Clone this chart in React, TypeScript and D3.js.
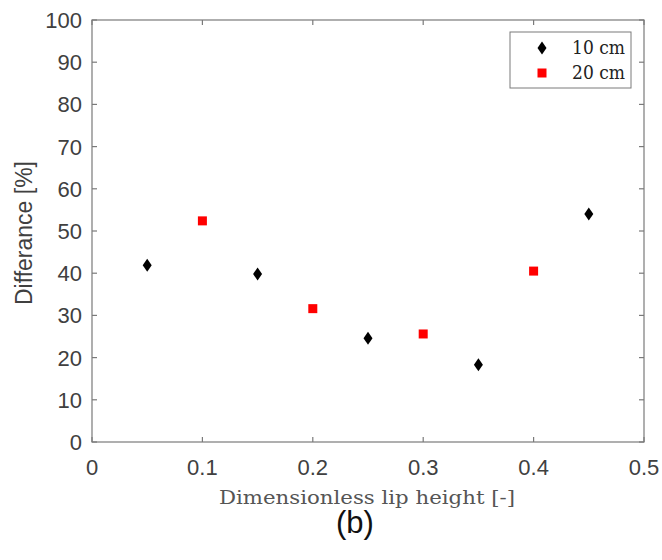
import React from "react";
import * as d3 from "d3";

const x10 = [0.05, 0.15, 0.25, 0.35, 0.45];
const y10 = [41.9, 39.8, 24.6, 18.3, 54.0];
const x20 = [0.1, 0.2, 0.3, 0.4];
const y20 = [52.4, 31.6, 25.6, 40.5];
const xTicks = [0, 0.1, 0.2, 0.3, 0.4, 0.5];
const yTicks = [0, 10, 20, 30, 40, 50, 60, 70, 80, 90, 100];
const seriesLabels = ["10 cm", "20 cm"];
const xLabel = "Dimensionless lip height [-]";
const yLabel = "Differance [%]";
const caption = "(b)";

export default function App() {
  const W = 662, H = 560;
  const L = 92, R = 644, T = 20, B = 442;
  const x = d3.scaleLinear().domain([0, 0.5]).range([L, R]);
  const y = d3.scaleLinear().domain([0, 100]).range([B, T]);
  const axisColor = "#7a7a7a";
  const textColor = "#404040";
  const tl = 5;
  const sans = "Liberation Sans, Arial, sans-serif";
  const serif = "DejaVu Serif, Liberation Serif, serif";
  const diamond = (cx: number, cy: number) =>
    `M${cx},${cy - 6.5}L${cx + 4.5},${cy}L${cx},${cy + 6.5}L${cx - 4.5},${cy}Z`;
  return (
    <svg width={W} height={H} style={{ position: "absolute", left: 0, top: 0, background: "#fff" }}>
      <rect x={0} y={0} width={W} height={H} fill="#fff" />
      <rect x={L} y={T} width={R - L} height={B - T} fill="none" stroke={axisColor} strokeWidth={1.2} />
      {xTicks.map((t, i) => (
        <g key={"xt" + i}>
          <line x1={x(t)} x2={x(t)} y1={B} y2={B - tl} stroke={axisColor} strokeWidth={1.2} />
          <line x1={x(t)} x2={x(t)} y1={T} y2={T + tl} stroke={axisColor} strokeWidth={1.2} />
          <text x={x(t)} y={475} textAnchor="middle" fontFamily={sans} fontSize={22} fill={textColor}>
            {t === 0 ? "0" : t.toFixed(1)}
          </text>
        </g>
      ))}
      {yTicks.map((t, i) => (
        <g key={"yt" + i}>
          <line x1={L} x2={L + tl} y1={y(t)} y2={y(t)} stroke={axisColor} strokeWidth={1.2} />
          <line x1={R} x2={R - tl} y1={y(t)} y2={y(t)} stroke={axisColor} strokeWidth={1.2} />
          <text x={82} y={y(t) + 8} textAnchor="end" fontFamily={sans} fontSize={22} fill={textColor}>
            {t}
          </text>
        </g>
      ))}
      <text transform={`translate(32,233) rotate(-90)`} textAnchor="middle" fontFamily={sans} fontSize={23} fill={textColor}>
        {yLabel}
      </text>
      <text x={367} y={504} textAnchor="middle" fontFamily={serif} fontSize={19} fill="#555" textLength={296} lengthAdjust="spacingAndGlyphs">
        {xLabel}
      </text>
      <text x={355} y={533} textAnchor="middle" fontFamily={sans} fontSize={31} fill="#111">
        {caption}
      </text>
      {x10.map((v, i) => (
        <path key={"d" + i} d={diamond(x(v), y(y10[i]))} fill="#000" />
      ))}
      {x20.map((v, i) => (
        <rect key={"s" + i} x={x(v) - 4.5} y={y(y20[i]) - 4.5} width={9} height={9} fill="#ff0000" />
      ))}
      <g>
        <rect x={510} y={32} width={121} height={56} fill="#fff" stroke={axisColor} strokeWidth={1} />
        <path d={diamond(542, 48)} fill="#000" />
        <rect x={542 - 4.5} y={73 - 4.5} width={9} height={9} fill="#ff0000" />
        <text x={572} y={54} fontFamily={serif} fontSize={18} fill="#222" textLength={53} lengthAdjust="spacingAndGlyphs">{seriesLabels[0]}</text>
        <text x={572} y={79} fontFamily={serif} fontSize={18} fill="#222" textLength={53} lengthAdjust="spacingAndGlyphs">{seriesLabels[1]}</text>
      </g>
    </svg>
  );
}
